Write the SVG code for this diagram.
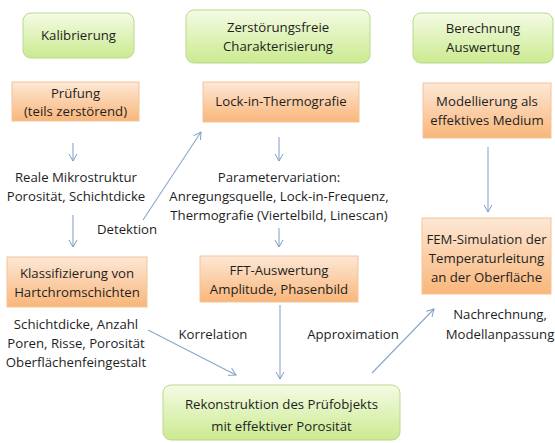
<svg xmlns="http://www.w3.org/2000/svg" width="555" height="443" viewBox="0 0 555 443">
<defs>
<linearGradient id="gg" x1="0" y1="0" x2="0" y2="1"><stop offset="0" stop-color="#f4fbe4"/><stop offset="1" stop-color="#cbea90"/></linearGradient>
<linearGradient id="og" x1="0" y1="0" x2="0" y2="1"><stop offset="0" stop-color="#fde8d6"/><stop offset="1" stop-color="#f9b67a"/></linearGradient>
<marker id="ah" markerWidth="10" markerHeight="10" refX="8" refY="5" orient="auto" markerUnits="userSpaceOnUse"><path d="M1,1 L8,5 L1,9" fill="none" stroke="#7f9cc4" stroke-width="1"/></marker>
</defs>
<style>
.g{fill:url(#gg);stroke:#b9d98f;stroke-width:1}
.o{fill:url(#og);stroke:#f3c49a;stroke-width:1}
text{font-family:"Open Sans","Liberation Sans",sans-serif;font-size:13.2px;fill:#1e1e1e;text-anchor:middle}
.c line{stroke:#8aa6cc;stroke-width:1.1;marker-end:url(#ah)}
</style>
<rect width="555" height="443" fill="#fff"/>
<g id="kalibrierung"><rect class="g" x="23" y="13" width="111" height="45" rx="8"/><text x="78.5" y="40">Kalibrierung</text></g>
<g id="zfp"><rect class="g" x="186" y="10" width="184" height="53" rx="8"/><text x="278" y="32">Zerstörungsfreie</text><text x="278" y="51">Charakterisierung</text></g>
<g id="berechnung"><rect class="g" x="413" y="13" width="140" height="50" rx="8"/><text x="483" y="33">Berechnung</text><text x="483" y="52">Auswertung</text></g>
<g id="pruefung"><rect class="o" x="12" y="82" width="127" height="39"/><text x="75.5" y="98">Prüfung</text><text x="75.5" y="116">(teils zerstörend)</text></g>
<g id="lockin"><rect class="o" x="203" y="82" width="156" height="40"/><text x="281" y="106">Lock-in-Thermografie</text></g>
<g id="modellierung"><rect class="o" x="423" y="83" width="128" height="55"/><text x="487" y="106">Modellierung als</text><text x="487" y="125">effektives Medium</text></g>
<g id="mikro"><text x="76" y="182">Reale Mikrostruktur</text><text x="76" y="201">Porosität, Schichtdicke</text></g>
<g id="param"><text x="279" y="182">Parametervariation:</text><text x="279" y="201">Anregungsquelle, Lock-in-Frequenz,</text><text x="279" y="220">Thermografie (Viertelbild, Linescan)</text></g>
<g id="klassifizierung"><rect class="o" x="7" y="257" width="140" height="50"/><text x="77" y="278">Klassifizierung von</text><text x="77" y="297">Hartchromschichten</text></g>
<g id="fft"><rect class="o" x="200" y="256" width="158" height="46"/><text x="279" y="275">FFT-Auswertung</text><text x="279" y="294">Amplitude, Phasenbild</text></g>
<g id="fem"><rect class="o" x="422" y="218" width="129" height="76"/><text x="486.5" y="244">FEM-Simulation der</text><text x="486.5" y="263">Temperaturleitung</text><text x="486.5" y="282">an der Oberfläche</text></g>
<g id="eigenschaften"><text x="76" y="329">Schichtdicke, Anzahl</text><text x="76" y="348">Poren, Risse, Porosität</text><text x="76" y="367">Oberflächenfeingestalt</text></g>
<g id="nachrechnung"><text x="500" y="319">Nachrechnung,</text><text x="500" y="339">Modellanpassung</text></g>
<g id="rekonstruktion"><rect class="g" x="163" y="385" width="237" height="55" rx="8"/><text x="281.5" y="409">Rekonstruktion des Prüfobjekts</text><text x="281.5" y="431">mit effektiver Porosität</text></g>
<g id="labels"><text x="127" y="234">Detektion</text><text x="213" y="339">Korrelation</text><text x="353" y="339">Approximation</text></g>
<g class="c" id="connectors">
<line x1="73" y1="143" x2="73" y2="161"/>
<line x1="73" y1="215" x2="73" y2="247"/>
<line x1="143" y1="220" x2="201" y2="132"/>
<line x1="279" y1="137" x2="279" y2="161"/>
<line x1="279" y1="228" x2="279" y2="247"/>
<line x1="488" y1="147" x2="488" y2="212"/>
<line x1="280" y1="305" x2="280" y2="379"/>
<line x1="148" y1="330" x2="236" y2="375"/>
<line x1="372" y1="373" x2="434" y2="309"/>
</g>
</svg>
